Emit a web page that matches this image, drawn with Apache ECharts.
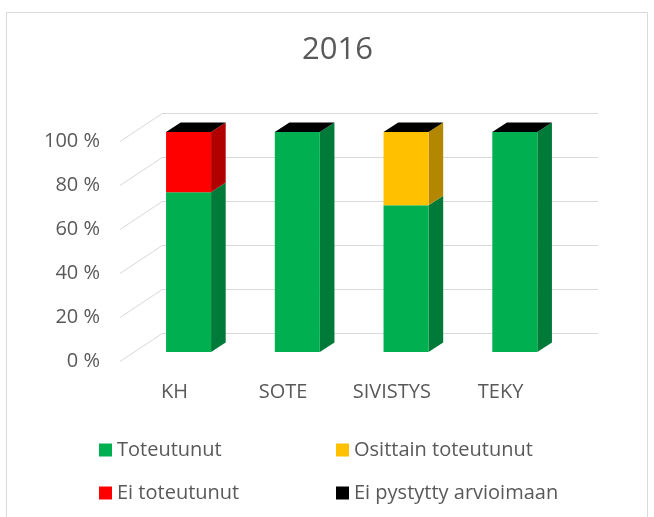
<!DOCTYPE html>
<html>
<head>
<meta charset="utf-8">
<script src="https://cdn.jsdelivr.net/npm/echarts@6/dist/echarts.min.js"></script>
<style>
html,body{margin:0;padding:0;background:#fff;}
#chart{width:654px;height:517px;}
</style>
</head>
<body>
<div id="chart"></div>
<script>
// ---- data ----
const categories = ['KH', 'SOTE', 'SIVISTYS', 'TEKY'];
const toteutunut = [72.7, 100, 66.7, 100];
const osittainToteutunut = [0, 0, 33.3, 0];
const eiToteutunut = [27.3, 0, 0, 0];
const eiPystytty = [0, 0, 0, 0];
const yTicks = [0, 20, 40, 60, 80, 100];
const seriesNames = ['Toteutunut', 'Osittain toteutunut', 'Ei toteutunut', 'Ei pystytty arvioimaan'];
const seriesValues = [toteutunut, osittainToteutunut, eiToteutunut, eiPystytty];

// ---- styles ----
const FRONT = ['#00B050', '#FFC000', '#FF0000', '#000000'];
const SIDE = ['#007A38', '#B38700', '#B00000', '#000000'];
const TOP_COLOR = '#000000';
const DEPTH = [-43, 28.5];   // full depth offset back -> front
const D_FRONT = 0.67, D_BACK = 0.33;
const BAR_FRAC = 0.414;
const FONT = '"Open Sans", sans-serif';
const TXT = '#595959';
const GRIDC = '#d9d9d9';

// stacking bases
const stacked = [];
const running = categories.map(() => 0);
seriesValues.forEach((vals, s) => {
  stacked.push(vals.map((v, i) => {
    const b = running[i];
    running[i] += v;
    return [i, b, b + v];
  }));
});

function off(p, d) { return [p[0] + DEPTH[0] * d, p[1] + DEPTH[1] * d]; }

function makeRender(sIdx, isTop) {
  return function (params, api) {
    const cat = api.value(0), b = api.value(1), t = api.value(2);
    const pb = api.coord([cat, b]);
    const pt = api.coord([cat, t]);
    const band = api.size([1, 0])[0];
    const w = band * BAR_FRAC;
    const children = [];
    const L = pb[0] - w / 2, R = pb[0] + w / 2;
    if (t - b > 0) {
      const fTL = off([L, pt[1]], D_FRONT), fTR = off([R, pt[1]], D_FRONT);
      const fBL = off([L, pb[1]], D_FRONT), fBR = off([R, pb[1]], D_FRONT);
      const bTR = off([R, pt[1]], D_BACK), bBR = off([R, pb[1]], D_BACK);
      children.push({ type: 'polygon', shape: { points: [fTR, bTR, bBR, fBR] }, style: { fill: SIDE[sIdx] } });
      children.push({ type: 'polygon', shape: { points: [fTL, fTR, fBR, fBL] }, style: { fill: FRONT[sIdx] } });
    }
    if (isTop) {
      const a = off([L, pt[1]], D_FRONT), c = off([R, pt[1]], D_FRONT);
      const d = off([R, pt[1]], D_BACK), e = off([L, pt[1]], D_BACK);
      children.push({ type: 'polygon', shape: { points: [a, c, d, e] }, style: { fill: TOP_COLOR } });
    }
    return { type: 'group', children: children };
  };
}

const series = [];
// side-wall diagonal grid lines
series.push({
  type: 'custom', name: '_diag', xAxisIndex: 0, yAxisIndex: 0, silent: true,
  data: yTicks.map(v => [0, v]),
  renderItem: function (params, api) {
    const y = api.coord([0, api.value(1)])[1];
    const x0 = params.coordSys.x;
    return { type: 'line', shape: { x1: x0, y1: y, x2: x0 + DEPTH[0], y2: y + DEPTH[1] }, style: { stroke: GRIDC, lineWidth: 1 } };
  },
  z: 1
});
seriesNames.forEach((n, s) => {
  series.push({
    type: 'custom', name: n, xAxisIndex: 0, yAxisIndex: 0,
    itemStyle: { color: FRONT[s] },
    encode: { x: 0, y: [1, 2] },
    data: stacked[s],
    renderItem: makeRender(s, s === seriesNames.length - 1),
    z: 3
  });
});

const chart = echarts.init(document.getElementById('chart'), null, { renderer: 'canvas' });
chart.setOption({
  animation: false,
  backgroundColor: '#fff',
  title: {
    text: '2016', left: 302, top: 35, padding: 0,
    textStyle: { fontFamily: FONT, fontSize: 31, fontWeight: 'normal', color: TXT }
  },
  graphic: [{
    type: 'rect', shape: { x: 6.5, y: 12.5, width: 641, height: 530 },
    style: { fill: 'none', stroke: GRIDC, lineWidth: 1 }, z: -1
  }],
  legend: [
    { data: [seriesNames[0], seriesNames[2]], orient: 'vertical', left: 99, top: 440, padding: 0, itemGap: 23,
      itemWidth: 13, itemHeight: 13, icon: 'rect', itemStyle: { borderWidth: 0 },
      textStyle: { fontFamily: FONT, fontSize: 20, color: TXT } },
    { data: [seriesNames[1], seriesNames[3]], orient: 'vertical', left: 336, top: 440, padding: 0, itemGap: 23,
      itemWidth: 13, itemHeight: 13, icon: 'rect', itemStyle: { borderWidth: 0 },
      textStyle: { fontFamily: FONT, fontSize: 20, color: TXT } }
  ],
  grid: [
    { left: 163, top: 113, width: 435, height: 220 },
    { left: 120, top: 141, width: 435, height: 220 }
  ],
  xAxis: [
    { type: 'category', gridIndex: 0, data: categories, axisLine: { show: false }, axisTick: { show: false }, axisLabel: { show: false } },
    { type: 'category', gridIndex: 1, data: categories, axisLine: { show: false }, axisTick: { show: false },
      axisLabel: { margin: 21, fontFamily: FONT, fontSize: 20, color: TXT } }
  ],
  yAxis: [
    { type: 'value', gridIndex: 0, min: 0, max: 100, interval: 20, axisLabel: { show: false },
      axisLine: { show: false }, axisTick: { show: false }, splitLine: { lineStyle: { color: GRIDC, width: 1 } } },
    { type: 'value', gridIndex: 1, min: 0, max: 100, interval: 20, splitLine: { show: false },
      axisLine: { show: false }, axisTick: { show: false },
      axisLabel: { margin: 20, formatter: '{value} %', fontFamily: FONT, fontSize: 20, color: TXT } }
  ],
  series: series
});
</script>
</body>
</html>
